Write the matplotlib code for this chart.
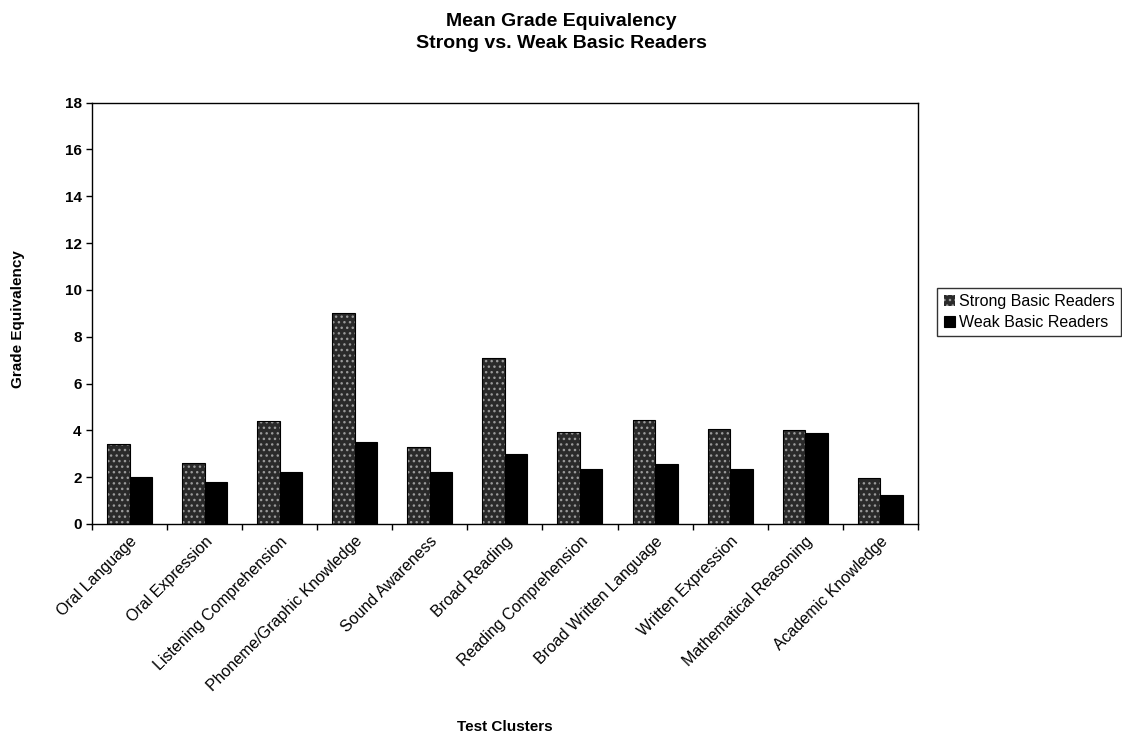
import numpy as np
import matplotlib.pyplot as plt

plt.rcParams['font.family'] = ['Liberation Sans', 'DejaVu Sans']

clusters = ["Oral Language", "Oral Expression", "Listening Comprehension",
            "Phoneme/Graphic Knowledge", "Sound Awareness", "Broad Reading",
            "Reading Comprehension", "Broad Written Language", "Written Expression",
            "Mathematical Reasoning", "Academic Knowledge"]
strong = [3.4, 2.6, 4.4, 9.0, 3.3, 7.1, 3.95, 4.45, 4.05, 4.0, 1.95]
weak = [2.0, 1.8, 2.2, 3.5, 2.2, 3.0, 2.35, 2.55, 2.35, 3.9, 1.25]

fig = plt.figure(figsize=(11.22, 7.38), dpi=100)
ax = fig.add_axes([0.082, 0.29, 0.736, 0.571])

x = np.arange(len(clusters))
w = 0.3
ax.bar(x - w / 2, strong, w, color='#2a2a2a', hatch='...', edgecolor='#9a9a9a',
       linewidth=0, label='Strong Basic Readers')
ax.bar(x - w / 2, strong, w, fill=False, edgecolor='black', linewidth=0.8)
ax.bar(x + w / 2, weak, w, color='black', edgecolor='black', linewidth=0.8,
       label='Weak Basic Readers')

ax.set_xlim(-0.5, len(clusters) - 0.5)
ax.set_ylim(0, 18)
ax.set_yticks(np.arange(0, 19, 2))
ax.tick_params(axis='y', labelsize=11, length=4, width=1)
for t in ax.get_yticklabels():
    t.set_fontweight('bold')

# Excel style: ticks between categories, labels centred
ax.set_xticks(np.arange(-0.5, len(clusters), 1))
ax.set_xticklabels([])
ax.tick_params(axis='x', which='major', length=4, width=1)
ax.set_xticks(x, minor=True)
ax.set_xticklabels(clusters, minor=True, rotation=45, ha='right',
                   rotation_mode='anchor', fontsize=11.5)
ax.tick_params(axis='x', which='minor', length=0, pad=7)

for s in ax.spines.values():
    s.set_linewidth(1)

fig.text(0.016, 0.567, 'Grade Equivalency', rotation=90, ha='center', va='center',
         fontsize=11, fontweight='bold')
fig.text(0.45, 0.015, 'Test Clusters', ha='center', va='center',
         fontsize=11, fontweight='bold')
fig.text(0.5, 0.983, 'Mean Grade Equivalency\nStrong vs. Weak Basic Readers',
         ha='center', va='top', fontsize=14, fontweight='bold', linespacing=1.45)

leg = ax.legend(loc='upper right', bbox_to_anchor=(0.999, 0.61),
                bbox_transform=fig.transFigure, fontsize=11.5,
                frameon=True, fancybox=False, edgecolor='black',
                handlelength=0.7, handleheight=0.7, handletextpad=0.25,
                borderpad=0.4, labelspacing=0.35, borderaxespad=0)
leg.get_frame().set_linewidth(1)

fig.savefig('out.png', dpi=100)
